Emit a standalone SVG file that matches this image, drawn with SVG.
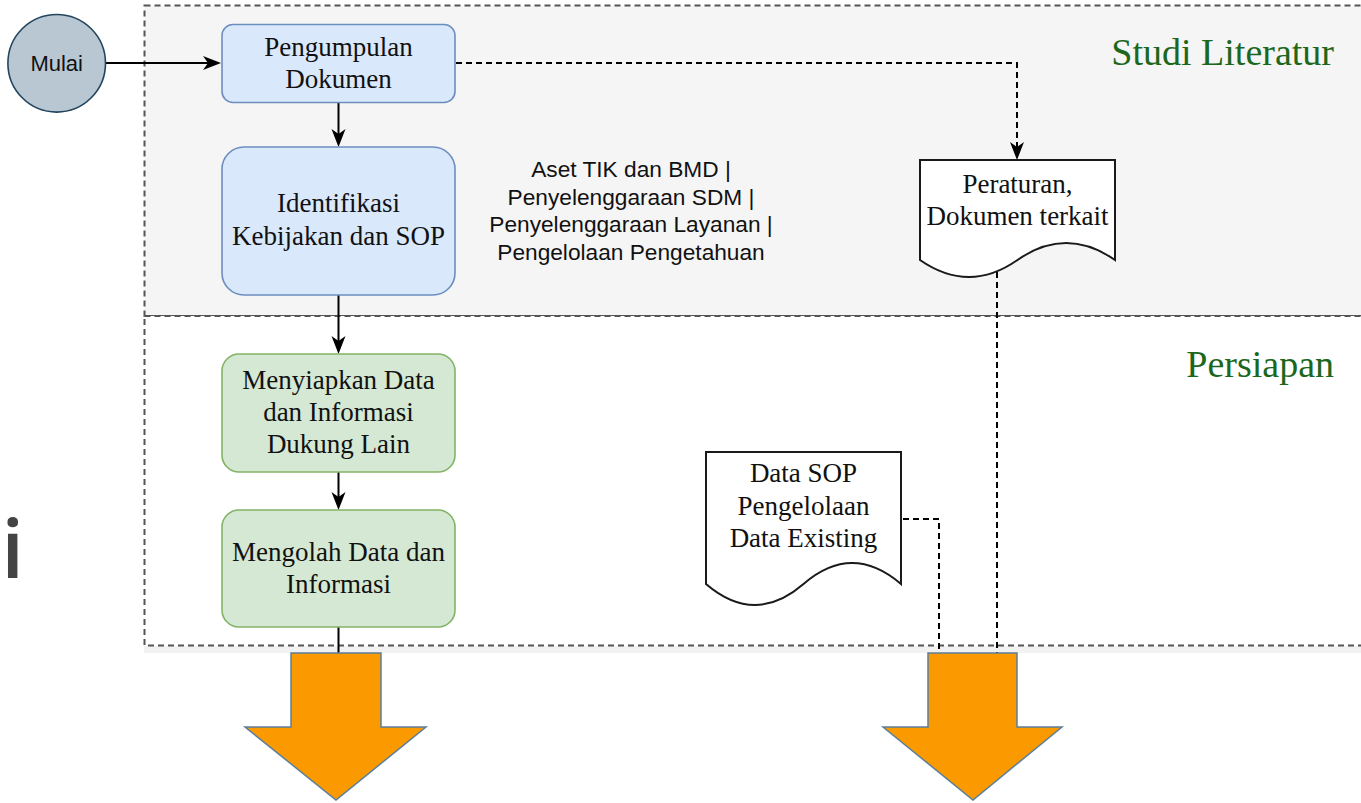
<svg xmlns="http://www.w3.org/2000/svg" width="1361" height="803" viewBox="0 0 1361 803">
  <style>
    .lane { stroke: #555; stroke-width: 2; stroke-dasharray: 6 4; }
    .lane-title { font-family: "Liberation Serif", "Times New Roman", serif; font-size: 38px; fill: #1b671b; text-anchor: end; }
    .blue { fill: #dae8fc; stroke: #6c8ebf; stroke-width: 1.6; }
    .green { fill: #d5e8d4; stroke: #82b366; stroke-width: 1.6; }
    .doc { fill: #fff; stroke: #1a1a1a; stroke-width: 2; }
    .label { font-family: "Liberation Serif", "Times New Roman", serif; font-size: 27px; fill: #111; text-anchor: middle; }
    .note { font-family: "Liberation Sans", Arial, sans-serif; font-size: 22.7px; fill: #111; text-anchor: middle; }
    .flow { fill: none; stroke: #000; stroke-width: 2; }
    .dash { fill: none; stroke: #000; stroke-width: 2; stroke-dasharray: 6 4; }
    .big-arrow { fill: #fb9a00; stroke: #5b7f99; stroke-width: 1.5; }
  </style>
  <defs>
    <marker id="head" markerUnits="userSpaceOnUse" viewBox="0 0 18 16" markerWidth="18" markerHeight="16" refX="5" refY="8" orient="auto">
      <path d="M0,1 L18,8 L0,15 L5,8 Z" fill="#000"/>
    </marker>
  </defs>

  <!-- background -->
  <rect x="0" y="0" width="1361" height="803" fill="#fff"/>

  <!-- heading fragment on the left edge -->
  <text x="24" y="579" font-family="'Open Sans', 'DejaVu Sans', sans-serif" font-weight="600" font-size="82" fill="#444" text-anchor="end">ji</text>

  <!-- swimlanes -->
  <g id="lane-studi-literatur">
    <rect class="lane" x="144.5" y="5.5" width="1240" height="310.5" fill="#f5f5f5"/>
    <text class="lane-title" x="1334" y="65">Studi Literatur</text>
  </g>
  <g id="lane-persiapan">
    <rect x="144" y="646" width="1217" height="7" fill="#f2f2f2"/>
    <rect class="lane" x="144.5" y="316" width="1240" height="329.5" fill="#fff"/>
    <text class="lane-title" x="1334" y="377">Persiapan</text>
  </g>

  <!-- connectors -->
  <g id="connectors">
    <path class="flow" d="M106,63 L208,63" marker-end="url(#head)"/>
    <path class="flow" d="M338.5,102.5 L338.5,134" marker-end="url(#head)"/>
    <path class="flow" d="M338.5,295 L338.5,341" marker-end="url(#head)"/>
    <path class="flow" d="M338.5,472 L338.5,497" marker-end="url(#head)"/>
    <path class="flow" d="M338.5,627 L338.5,660"/>
    <path class="dash" d="M456,63 L1017,63 L1017,147" marker-end="url(#head)"/>
    <path class="dash" d="M997,272 L997,660"/>
    <path class="dash" d="M903,519 L939,519 L939,660"/>
  </g>

  <!-- start -->
  <g id="mulai">
    <circle cx="56.7" cy="63.3" r="48.8" fill="#b9c7d3" stroke="#23445d" stroke-width="1.6"/>
    <text x="56.7" y="71" font-family="'Liberation Sans', Arial, sans-serif" font-size="22px" fill="#111" text-anchor="middle">Mulai</text>
  </g>

  <g id="pengumpulan-dokumen">
    <rect class="blue" x="222" y="24.5" width="233" height="78" rx="11"/>
    <text class="label" x="338.5" y="56">Pengumpulan</text>
    <text class="label" x="338.5" y="88">Dokumen</text>
  </g>

  <g id="identifikasi-kebijakan">
    <rect class="blue" x="222" y="147" width="233" height="148" rx="22"/>
    <text class="label" x="338.5" y="212">Identifikasi</text>
    <text class="label" x="338.5" y="245">Kebijakan dan SOP</text>
  </g>

  <g id="kategori-kebijakan">
    <text class="note" x="631" y="177">Aset TIK dan BMD |</text>
    <text class="note" x="631" y="204.5">Penyelenggaraan SDM |</text>
    <text class="note" x="631" y="232">Penyelenggaraan Layanan |</text>
    <text class="note" x="631" y="259.5">Pengelolaan Pengetahuan</text>
  </g>

  <g id="peraturan-dokumen">
    <path class="doc" d="M920,160 L1115,160 L1115,260 Q1066,226 1017.5,260 Q969,294 920,260 Z"/>
    <text class="label" x="1017.5" y="193">Peraturan,</text>
    <text class="label" x="1017.5" y="225">Dokumen terkait</text>
  </g>

  <g id="menyiapkan-data">
    <rect class="green" x="222" y="354" width="233" height="118" rx="17"/>
    <text class="label" x="338.5" y="389">Menyiapkan Data</text>
    <text class="label" x="338.5" y="421">dan Informasi</text>
    <text class="label" x="338.5" y="453">Dukung Lain</text>
  </g>

  <g id="mengolah-data">
    <rect class="green" x="222" y="510" width="233" height="117" rx="17"/>
    <text class="label" x="338.5" y="561">Mengolah Data dan</text>
    <text class="label" x="338.5" y="593">Informasi</text>
  </g>

  <g id="data-sop">
    <path class="doc" d="M706,452 L901,452 L901,584 Q852,542 803.5,584 Q755,626 706,584 Z"/>
    <text class="label" x="803.5" y="482">Data SOP</text>
    <text class="label" x="803.5" y="515">Pengelolaan</text>
    <text class="label" x="803.5" y="547">Data Existing</text>
  </g>

  <!-- continuation arrows -->
  <g id="lanjut-kiri">
    <path class="big-arrow" d="M291,653 L381,653 L381,727 L426,727 L336,800 L245,727 L291,727 Z"/>
  </g>
  <g id="lanjut-kanan">
    <path class="big-arrow" d="M928,653 L1017,653 L1017,727 L1062,727 L973,800 L883,727 L928,727 Z"/>
  </g>
</svg>
